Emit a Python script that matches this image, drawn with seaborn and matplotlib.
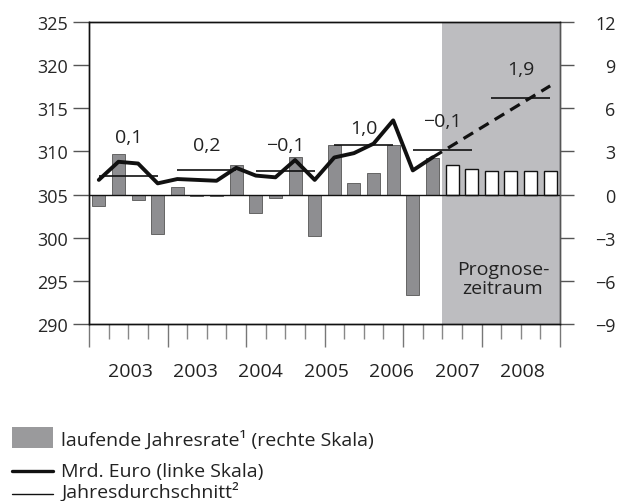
import numpy as np
import pandas as pd
import matplotlib
matplotlib.use("Agg")
import matplotlib.pyplot as plt
import matplotlib.transforms as mtransforms
from matplotlib.patches import Rectangle
from matplotlib.lines import Line2D
import seaborn as sns

# quarterly data, 2003 Q1 .. 2008 Q4 (24 quarters)
rate_actual = [-0.77, 2.84, -0.35, -2.77, 0.51, -0.12, -0.12, 2.05, -1.26, -0.23,
               2.61, -2.88, 3.44, 0.77, 1.49, 3.47, -7.0, 2.54]
rate_forecast = [2.07, 1.77, 1.63, 1.63, 1.63, 1.63]
mrd_euro = [306.7, 308.8, 308.6, 306.3, 306.8, 306.7, 306.6, 308.1, 307.2, 307.0,
            309.0, 306.7, 309.3, 309.8, 310.9, 313.6, 307.8, 309.3]
mrd_euro_forecast = [309.3, 317.6]  # start / end of dashed forecast line
year_avg = [307.2, 307.9, 307.7, 310.7, 310.2, 316.2]
year_change = ["0,1", "0,2", "\u22120,1", "1,0", "\u22120,1", "1,9"]
year_labels = ["2003", "2003", "2004", "2005", "2006", "2007", "2008"]

n_act = len(rate_actual)
n_all = n_act + len(rate_forecast)

sns.set_style("white")
plt.rcParams["font.family"] = ["Open Sans", "DejaVu Sans"]
plt.rcParams["font.size"] = 13
plt.rcParams["text.color"] = "#222222"

fig = plt.figure(figsize=(6.19, 5.02), dpi=100)
ax = fig.add_axes([89 / 619, 1 - 325 / 502, 471 / 619, 302 / 502])
ax2 = ax.twinx()

# bars on the right scale
df_a = pd.DataFrame({"q": np.arange(n_act) + 0.5, "rate": rate_actual})
df_f = pd.DataFrame({"q": np.arange(n_act, n_all) + 0.5, "rate": rate_forecast})

ax.axvspan(n_act, n_all, color="#bdbdc0", lw=0, zorder=0)
sns.barplot(data=df_a, x="q", y="rate", native_scale=True, width=0.66,
            color="#8e8e91", edgecolor="#555555", linewidth=0.6,
            saturation=1, ax=ax, zorder=2)
sns.barplot(data=df_f, x="q", y="rate", native_scale=True, width=0.66,
            color="white", edgecolor="#111111", linewidth=1.0,
            saturation=1, ax=ax, zorder=2)
ax.axhline(0, color="#111111", lw=1.0, zorder=3)

ax.set_xlim(0, n_all)
ax.set_ylim(-9, 12)
ax.set_xlabel("")
ax.set_ylabel("")

# line on the left scale
df_l = pd.DataFrame({"q": np.arange(n_act) + 0.5, "v": mrd_euro})
sns.lineplot(data=df_l, x="q", y="v", color="#111111", lw=2.8, ax=ax2)
sns.lineplot(x=[n_act - 0.5, n_all - 0.5], y=mrd_euro_forecast, color="#111111",
             lw=2.3, ax=ax2, dashes=False)
ax2.lines[-1].set_linestyle((0, (3.5, 2.2)))

for k, avg in enumerate(year_avg):
    ax2.hlines(avg, 4 * k + 0.5, 4 * k + 3.5, color="#111111", lw=1.2)
offsets = [4.5, 2.8, 3.1, 2.0, 3.3, 3.4]
for k, (avg, lab) in enumerate(zip(year_avg, year_change)):
    ax2.text(4 * k + 2, avg + offsets[k], lab, ha="center", va="center", fontsize=14)

ax2.set_ylim(290, 325)
ax2.set_xlim(0, n_all)
ax2.set_xlabel("")
ax2.set_ylabel("")

# axes layout: left scale (ax2) on the left, right scale (ax) on the right
ax.yaxis.tick_right()
ax2.yaxis.tick_left()
ax.set_yticks(np.arange(-9, 13, 3))
ax2.set_yticks(np.arange(290, 326, 5))
ax.tick_params(axis="y", right=True, left=False, length=10, width=1.0, color="#555555",
               pad=30, labelsize=13)
for t in ax.get_yticklabels():
    t.set_horizontalalignment("right")
ax2.tick_params(axis="y", left=True, right=False, labelleft=True, labelright=False,
                length=11.5, width=1.0, color="#555555", pad=3.5, labelsize=13)

ax.set_xticks(np.arange(0, n_all + 1, 4))
ax.set_xticks(np.arange(0, n_all + 1, 1), minor=True)
ax.set_xticklabels([])
ax.tick_params(axis="x", which="major", bottom=True, length=16.5, width=1.0, color="#777777")
ax.tick_params(axis="x", which="minor", bottom=True, length=11, width=1.0, color="#888888")
ax2.tick_params(axis="x", bottom=False, labelbottom=False)

for a in (ax, ax2):
    a.spines["left"].set_color("#111111")
    a.spines["top"].set_color("#111111")
    a.spines["bottom"].set_color("#111111")
    a.spines["right"].set_color("#555555")
    for s in a.spines.values():
        s.set_linewidth(1.0)

trans = mtransforms.blended_transform_factory(ax.transData, ax.transAxes)
for i, lab in enumerate(year_labels):
    ax.text(2.1 + i * 3.33, -0.156, lab, transform=trans, ha="center", va="center",
            fontsize=14, clip_on=False)

ax2.text(21.1, 295.3, "Prognose-\nzeitraum", ha="center", va="center",
         fontsize=14, linespacing=1.1)

# legend drawn at the bottom
fig.add_artist(Rectangle((12 / 619, 1 - 449 / 502), 41 / 619, 21 / 502,
                         facecolor="#9a9a9c", edgecolor="none", transform=fig.transFigure))
fig.add_artist(Line2D([12 / 619, 53 / 619], [1 - 472 / 502] * 2, color="#111111", lw=2.4,
                      transform=fig.transFigure))
fig.add_artist(Line2D([12 / 619, 53 / 619], [1 - 495 / 502] * 2, color="#111111", lw=1.0,
                      transform=fig.transFigure))
fig.text(61 / 619, 1 - 446 / 502, "laufende Jahresrate\u00b9 (rechte Skala)", va="baseline",
         fontsize=14)
fig.text(61 / 619, 1 - 477 / 502, "Mrd. Euro (linke Skala)", va="baseline", fontsize=14)
fig.text(61 / 619, 1 - 498 / 502, "Jahresdurchschnitt\u00b2", va="baseline", fontsize=14)

fig.savefig("out.png", dpi=100)
